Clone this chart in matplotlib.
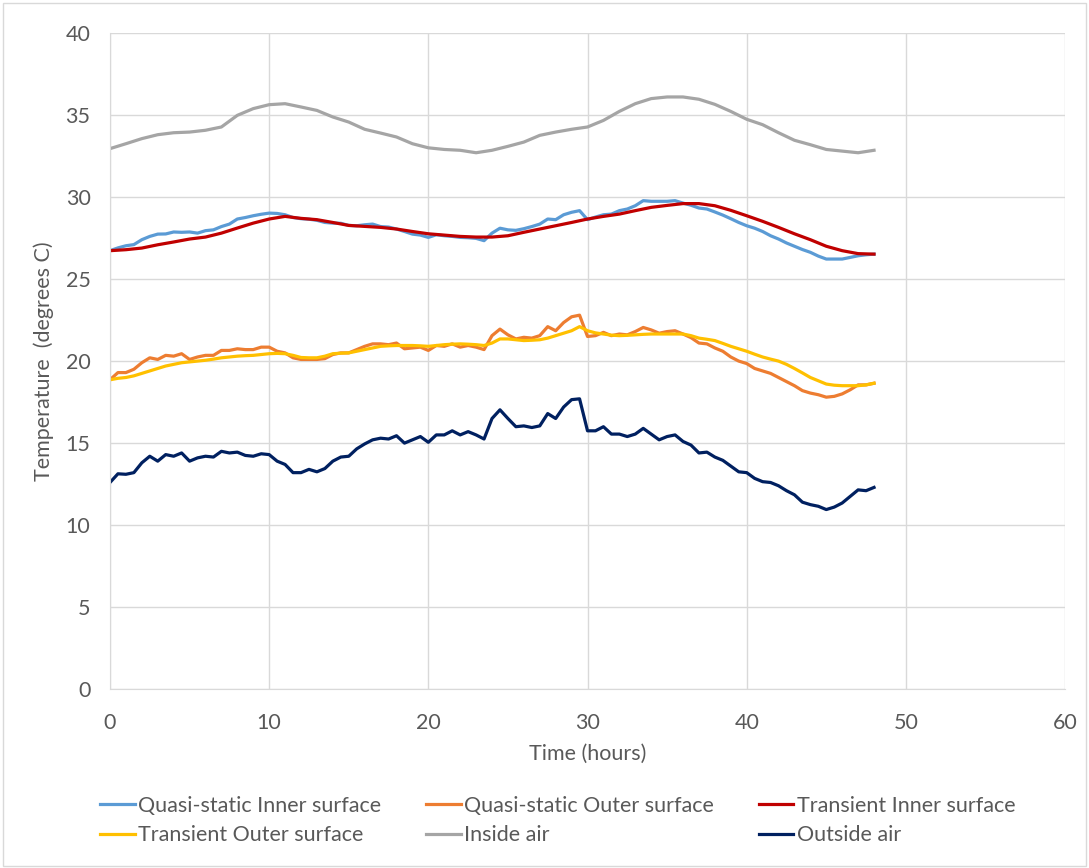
import numpy as np
import matplotlib
matplotlib.use("Agg")
import matplotlib.pyplot as plt
from matplotlib.patches import Rectangle

plt.rcParams['font.family'] = ['Lato', 'DejaVu Sans']

# half-hourly samples, 0 to 48 h
t_half = np.arange(0, 48.5, 0.5)
# hourly samples for the smoother series
t_hour = np.arange(0, 49, 1)

qs_inner = [26.73, 26.9, 27.03, 27.1, 27.4, 27.6, 27.74, 27.75, 27.87, 27.85,
            27.87, 27.8, 27.95, 28.0, 28.2, 28.35, 28.66, 28.75, 28.86, 28.95,
            29.02, 29.0, 28.92, 28.75, 28.68, 28.65, 28.58, 28.45, 28.41, 28.4,
            28.27, 28.25, 28.31, 28.35, 28.2, 28.17, 28.05, 27.9, 27.74, 27.68,
            27.54, 27.7, 27.64, 27.6, 27.54, 27.52, 27.48, 27.34, 27.8, 28.1,
            28.0, 27.97, 28.07, 28.2, 28.35, 28.66, 28.62, 28.92, 29.07, 29.17,
            28.62, 28.78, 28.92, 28.96, 29.17, 29.27, 29.47, 29.78, 29.74, 29.74,
            29.74, 29.78, 29.63, 29.5, 29.33, 29.27, 29.09, 28.9, 28.68, 28.45,
            28.25, 28.1, 27.9, 27.64, 27.44, 27.2, 27.0, 26.8, 26.63, 26.4,
            26.22, 26.22, 26.22, 26.32, 26.42, 26.48, 26.52]

qs_outer = [18.86, 19.3, 19.3, 19.5, 19.9, 20.2, 20.1, 20.35, 20.3, 20.45,
            20.1, 20.25, 20.35, 20.35, 20.65, 20.65, 20.75, 20.7, 20.7, 20.85,
            20.85, 20.6, 20.5, 20.2, 20.1, 20.1, 20.1, 20.15, 20.4, 20.5,
            20.5, 20.7, 20.9, 21.05, 21.05, 21.0, 21.1, 20.75, 20.8, 20.85,
            20.65, 20.95, 20.9, 21.05, 20.85, 20.95, 20.85, 20.7, 21.55, 21.95,
            21.6, 21.35, 21.45, 21.4, 21.55, 22.1, 21.85, 22.35, 22.7, 22.8,
            21.5, 21.55, 21.75, 21.55, 21.65, 21.6, 21.8, 22.05, 21.9, 21.7,
            21.8, 21.85, 21.65, 21.43, 21.1, 21.05, 20.8, 20.6, 20.25, 20.0,
            19.85, 19.55, 19.4, 19.25, 19.0, 18.75, 18.5, 18.2, 18.05, 17.95,
            17.8, 17.85, 18.0, 18.25, 18.55, 18.55, 18.65]

tr_inner = [26.73, 26.79, 26.89, 27.09, 27.26, 27.44, 27.56, 27.8, 28.11, 28.41,
            28.66, 28.82, 28.7, 28.62, 28.45, 28.27, 28.21, 28.15, 28.05, 27.9,
            27.76, 27.68, 27.6, 27.56, 27.56, 27.64, 27.85, 28.05, 28.25, 28.45,
            28.66, 28.82, 28.96, 29.17, 29.37, 29.49, 29.6, 29.6, 29.47, 29.19,
            28.86, 28.52, 28.15, 27.76, 27.4, 27.0, 26.73, 26.55, 26.52]

tr_outer = [18.86, 18.95, 19.0, 19.1, 19.25, 19.4, 19.55, 19.7, 19.8, 19.9,
            19.95, 20.0, 20.05, 20.12, 20.2, 20.25, 20.3, 20.33, 20.35, 20.4,
            20.45, 20.47, 20.45, 20.35, 20.22, 20.2, 20.2, 20.3, 20.45, 20.48,
            20.5, 20.6, 20.7, 20.8, 20.9, 20.93, 20.95, 20.95, 20.95, 20.93,
            20.9, 20.95, 21.0, 21.03, 21.05, 21.03, 21.0, 20.95, 21.1, 21.35,
            21.35, 21.3, 21.25, 21.27, 21.3, 21.4, 21.55, 21.7, 21.85, 22.1,
            21.85, 21.72, 21.65, 21.58, 21.55, 21.57, 21.6, 21.63, 21.65, 21.65,
            21.65, 21.65, 21.65, 21.55, 21.4, 21.33, 21.25, 21.08, 20.9, 20.75,
            20.6, 20.42, 20.25, 20.12, 20.0, 19.8, 19.55, 19.28, 19.0, 18.8,
            18.6, 18.53, 18.5, 18.5, 18.5, 18.55, 18.65]

inside_air = [32.95, 33.25, 33.56, 33.8, 33.92, 33.96, 34.07, 34.27, 34.98, 35.39,
              35.63, 35.69, 35.49, 35.28, 34.88, 34.57, 34.13, 33.9, 33.66, 33.25,
              33.0, 32.9, 32.85, 32.7, 32.85, 33.09, 33.35, 33.76, 33.96, 34.13,
              34.27, 34.67, 35.22, 35.69, 36.0, 36.1, 36.1, 35.96, 35.65, 35.22,
              34.74, 34.41, 33.92, 33.46, 33.19, 32.9, 32.8, 32.7, 32.85]

outside_air = [12.6, 13.13, 13.1, 13.2, 13.8, 14.2, 13.9, 14.3, 14.2, 14.4,
               13.9, 14.1, 14.2, 14.15, 14.5, 14.4, 14.45, 14.25, 14.2, 14.35,
               14.3, 13.9, 13.7, 13.2, 13.2, 13.4, 13.25, 13.45, 13.9, 14.15,
               14.2, 14.65, 14.95, 15.2, 15.3, 15.25, 15.45, 15.0, 15.2, 15.4,
               15.05, 15.5, 15.5, 15.75, 15.5, 15.7, 15.5, 15.25, 16.5, 17.03,
               16.5, 16.0, 16.05, 15.95, 16.05, 16.8, 16.5, 17.2, 17.65, 17.7,
               15.75, 15.75, 16.0, 15.55, 15.55, 15.4, 15.55, 15.9, 15.55, 15.2,
               15.4, 15.5, 15.1, 14.88, 14.4, 14.45, 14.15, 13.95, 13.6, 13.25,
               13.2, 12.85, 12.65, 12.6, 12.4, 12.1, 11.85, 11.4, 11.25, 11.15,
               10.95, 11.1, 11.35, 11.75, 12.15, 12.1, 12.3]

fig = plt.figure(figsize=(10.89, 8.68), dpi=100)
ax = fig.add_axes([0.101, 0.206, 0.877, 0.756])

lw = 2.3
l_qi, = ax.plot(t_half, qs_inner, color='#5B9BD5', lw=lw, label='Quasi-static Inner surface')
l_qo, = ax.plot(t_half, qs_outer, color='#ED7D31', lw=lw, label='Quasi-static Outer surface')
l_ti, = ax.plot(t_hour, tr_inner, color='#C00000', lw=lw, label='Transient Inner surface')
l_to, = ax.plot(t_half, tr_outer, color='#FFC000', lw=lw, label='Transient Outer surface')
l_ia, = ax.plot(t_hour, inside_air, color='#A5A5A5', lw=lw, label='Inside air')
l_oa, = ax.plot(t_half, outside_air, color='#002060', lw=lw, label='Outside air')

ax.set_xlim(0, 60)
ax.set_ylim(0, 40)
ax.set_xticks(range(0, 61, 10))
ax.set_yticks(range(0, 41, 5))
ax.grid(True, color='#D9D9D9', lw=1)
ax.set_axisbelow(True)
for s in ['top', 'right']:
    ax.spines[s].set_visible(False)
for s in ['left', 'bottom']:
    ax.spines[s].set_color('#D9D9D9')
ax.tick_params(length=0, labelsize=15.5, colors='#595959')
ax.tick_params(axis='x', pad=17)
ax.tick_params(axis='y', pad=14)

ax.set_xlabel('Time (hours)', fontsize=15.5, color='#595959', labelpad=8)
ax.set_ylabel('Temperature  (degrees C)', fontsize=15.5, color='#595959', labelpad=8)

# legend fills column-wise, so order handles to give the two rows
handles = [l_qi, l_to, l_qo, l_ia, l_ti, l_oa]
leg = fig.legend(handles=handles, labels=[h.get_label() for h in handles],
                 ncol=3, loc='upper left', bbox_to_anchor=(0.092, 0.083),
                 frameon=False, fontsize=15.5, handlelength=1.6,
                 handletextpad=0.15, columnspacing=2.1, labelspacing=0.44,
                 borderaxespad=0, borderpad=0)
for txt in leg.get_texts():
    txt.set_color('#595959')

fig.patches.append(Rectangle((0.003, 0.002), 0.994, 0.995, transform=fig.transFigure,
                             fill=False, edgecolor='#D9D9D9', lw=1))

fig.savefig('out.png', dpi=100)
